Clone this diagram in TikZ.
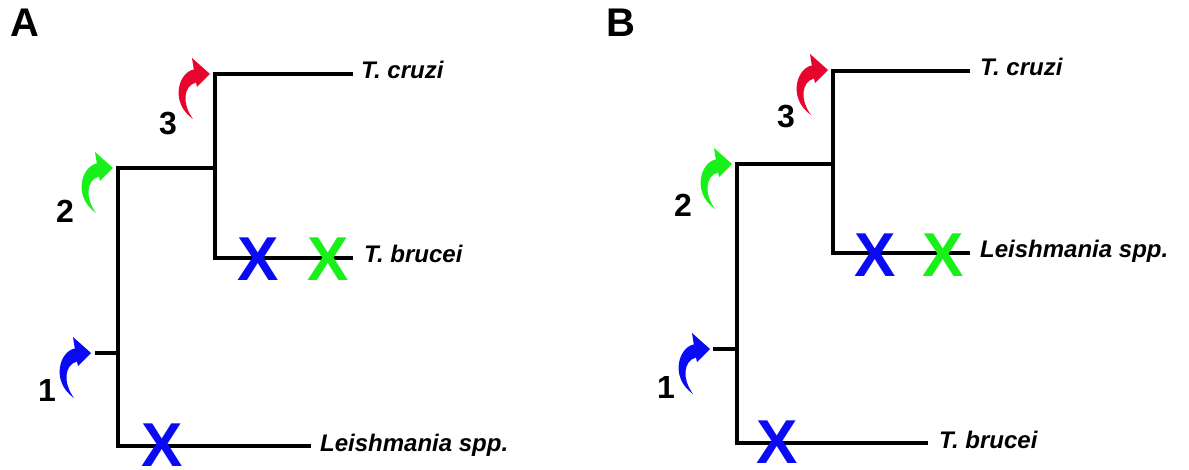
\documentclass[tikz,border=0pt]{standalone}
\usepackage{fontspec}
\setmainfont{Liberation Sans}
\definecolor{xblue}{RGB}{10,10,245}
\definecolor{xgreen}{RGB}{25,240,25}
\definecolor{xred}{RGB}{232,5,45}
\newcommand\curvedarrow[2]{%
  \begin{scope}[shift={(#1)}]
    \fill[#2] (0,0) -- (-18,-16) -- (-16.2,-4.5)
      .. controls (-31,-2) and (-41,28) .. (-17,45)
      .. controls (-28,30) and (-27,12) .. (-14,8.5)
      -- (-13,13) -- cycle;
  \end{scope}}
\begin{document}
\begin{tikzpicture}[x=1pt,y=-1pt,
  branch/.style={line width=4.3pt,line join=miter,black},
  species/.style={anchor=base west,inner sep=0pt,font=\bfseries\itshape\fontsize{24}{24}\selectfont},
  event/.style={inner sep=0pt,font=\bfseries\fontsize{32}{32}\selectfont},
  panel/.style={inner sep=0pt,font=\bfseries\fontsize{40}{40}\selectfont},
  loss/.style={inner sep=0pt,font=\bfseries\fontsize{62}{62}\selectfont}]
\useasboundingbox (0,0) rectangle (1189,470);
% ---------- Panel A ----------
\node[panel] (A) at (25,22.5) {A};
\coordinate (a0) at (95,353);
\coordinate (a1) at (118,353);
\coordinate (a1t) at (118,168);
\coordinate (a1b) at (118,446);
\coordinate (a2) at (215,168);
\coordinate (a2t) at (215,74);
\coordinate (a2b) at (215,258);
\coordinate (acr) at (353,74);
\coordinate (abr) at (353,258);
\coordinate (ale) at (311,446);
\draw[branch] (a0) -- (a1);
\draw[branch] (a2) -- (a1t) -- (a1b) -- (ale);
\draw[branch] (acr) -- (a2t) -- (a2b) -- (abr);
\node[species] (acrL) at (361,79) {T. cruzi};
\node[species] (abrL) at (364,263) {T. brucei};
\node[species] (aleL) at (320,451) {Leishmania spp.};
\node[loss,text=xblue] (ax1) at (258,259.5) {X};
\node[loss,text=xgreen] (ax2) at (328,259.5) {X};
\node[loss,text=xblue] (ax3) at (162,445) {X};
\curvedarrow{210,74}{xred}
\curvedarrow{113,168}{xgreen}
\curvedarrow{91,353}{xblue}
\node[event] (a3n) at (168,123.5) {3};
\node[event] (a2n) at (65,211.5) {2};
\node[event] (a1n) at (47,390) {1};
% ---------- Panel B ----------
\node[panel] (B) at (621,22.5) {B};
\coordinate (b0) at (713,349);
\coordinate (b1) at (737,349);
\coordinate (b1t) at (737,164);
\coordinate (b1b) at (737,443);
\coordinate (b2) at (833,164);
\coordinate (b2t) at (833,71);
\coordinate (b2b) at (833,253);
\coordinate (bcr) at (970,71);
\coordinate (ble) at (970,253);
\coordinate (bbr) at (928,443);
\draw[branch] (b0) -- (b1);
\draw[branch] (b2) -- (b1t) -- (b1b) -- (bbr);
\draw[branch] (bcr) -- (b2t) -- (b2b) -- (ble);
\node[species] (bcrL) at (980,76) {T. cruzi};
\node[species] (bleL) at (980,258) {Leishmania spp.};
\node[species] (bbrL) at (939,448) {T. brucei};
\node[loss,text=xblue] (bx1) at (875,255.5) {X};
\node[loss,text=xgreen] (bx2) at (943,255.5) {X};
\node[loss,text=xblue] (bx3) at (777,442) {X};
\curvedarrow{828,70}{xred}
\curvedarrow{732,164}{xgreen}
\curvedarrow{710,349}{xblue}
\node[event] (b3n) at (786,117) {3};
\node[event] (b2n) at (683,205) {2};
\node[event] (b1n) at (666,387) {1};
\end{tikzpicture}
\end{document}
